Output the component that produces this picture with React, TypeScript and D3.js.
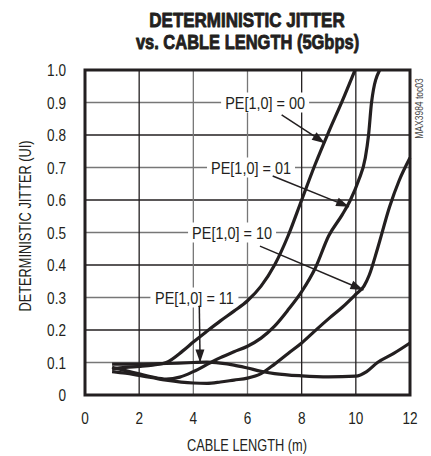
import React from "react";
import * as d3 from "d3";

const W = 431;
const H = 456;

const xTicks = [0, 2, 4, 6, 8, 10, 12];
const yTicks = [0, 0.1, 0.2, 0.3, 0.4, 0.5, 0.6, 0.7, 0.8, 0.9, 1.0];
const yTickLabels = ["0", "0.1", "0.2", "0.3", "0.4", "0.5", "0.6", "0.7", "0.8", "0.9", "1.0"];

const pe00: [number, number][] = [
  [1, 0.08], [1.5, 0.085], [2, 0.088], [2.5, 0.092], [3, 0.1], [3.6, 0.135], [4, 0.163], [4.5, 0.196],
  [5, 0.228], [5.5, 0.258], [6, 0.29], [6.5, 0.335], [7, 0.4], [7.5, 0.49], [8, 0.6],
  [8.5, 0.71], [9, 0.81], [9.5, 0.905], [9.97, 1.0],
];
const pe01: [number, number][] = [
  [1, 0.085], [1.5, 0.075], [2, 0.065], [2.5, 0.055], [3, 0.049], [3.5, 0.055], [4, 0.072], [4.6, 0.098],
  [5, 0.115], [5.5, 0.133], [6, 0.15], [6.5, 0.175], [7, 0.212], [7.5, 0.262], [8, 0.318],
  [8.5, 0.39], [9, 0.49], [9.5, 0.555], [9.8, 0.6], [10.1, 0.66], [10.35, 0.73], [10.47, 0.8],
  [10.58, 0.9], [10.88, 1.0],
];
const pe10: [number, number][] = [
  [1, 0.072], [1.5, 0.067], [2, 0.06], [2.5, 0.053], [3, 0.046], [4, 0.037], [4.5, 0.036], [5, 0.04],
  [5.5, 0.046], [6, 0.052], [6.5, 0.066], [7, 0.095], [7.5, 0.128], [8, 0.16], [8.5, 0.198],
  [9, 0.235], [9.5, 0.27], [10, 0.31], [10.3, 0.335], [10.5, 0.37], [10.8, 0.45], [11.25, 0.58],
  [11.6, 0.66], [12, 0.73],
];
const pe11: [number, number][] = [
  [1, 0.095], [2, 0.095], [3, 0.097], [4, 0.1], [4.5, 0.101], [5, 0.098], [5.5, 0.092],
  [6, 0.083], [6.5, 0.073], [7, 0.066], [8, 0.059], [9, 0.056], [10, 0.058], [10.4, 0.072],
  [10.8, 0.1], [11.4, 0.128], [12, 0.16],
];
const seriesList = [pe00, pe01, pe10, pe11];

const labelTexts = ["PE[1,0] = 00", "PE[1,0] = 01", "PE[1,0] = 10", "PE[1,0] = 11"];
const labelPos: [number, number][] = [[6.65, 0.9], [6.13, 0.7], [5.43, 0.5], [4.04, 0.3]];
const arrowFrom: [number, number][] = [[7.26, 0.862], [6.93, 0.674], [6.46, 0.458], [4.22, 0.275]];
const arrowTo: [number, number][] = [[8.86, 0.775], [9.75, 0.579], [10.28, 0.323], [4.25, 0.1]];

const darkX = [2, 8, 10];
const darkY = [0.2, 0.4, 0.6, 0.8];

const FONT = "'Liberation Sans', Arial, Helvetica, sans-serif";
const INK = "#231f20";
const SX = 0.8;

function NText(props: {
  x: number; y: number; size: number; anchor?: string; bold?: boolean; rotate?: number;
  dy?: string; fill?: string; sx?: number; stroke?: number; children: React.ReactNode;
}) {
  const { x, y, size, anchor = "start", bold, rotate = 0, dy, fill = INK, sx = SX, stroke, children } = props;
  return (
    <text
      transform={`translate(${x},${y}) rotate(${rotate}) scale(${sx},1)`}
      textAnchor={anchor}
      fontSize={size}
      fontWeight={bold ? "bold" : "normal"}
      dy={dy}
      fill={fill}
      stroke={stroke ? fill : undefined}
      strokeWidth={stroke}
      strokeLinejoin="round"
    >
      {children}
    </text>
  );
}

export default function App() {
  const x = d3.scaleLinear().domain([0, 12]).range([85, 410]);
  const y = d3.scaleLinear().domain([0, 1]).range([395, 70]);
  const line = d3
    .line<[number, number]>()
    .x((d) => x(d[0]))
    .y((d) => y(d[1]))
    .curve(d3.curveMonotoneX);

  const arrowHead = (fx: number, fy: number, tx: number, ty: number) => {
    const ang = Math.atan2(ty - fy, tx - fx);
    const L = 13;
    const Wd = 4.5;
    const bx = tx - L * Math.cos(ang);
    const by = ty - L * Math.sin(ang);
    const px = -Math.sin(ang) * Wd;
    const py = Math.cos(ang) * Wd;
    return `M${tx},${ty}L${bx + px},${by + py}L${bx - px},${by - py}Z`;
  };

  return (
    <svg
      width={W}
      height={H}
      style={{ position: "absolute", left: 0, top: 0, background: "#fff" }}
      fontFamily={FONT}
    >
      {/* Title */}
      <NText x={247} y={27} size={21} anchor="middle" bold sx={0.81} stroke={0.9}>DETERMINISTIC JITTER</NText>
      <NText x={247.5} y={49} size={21} anchor="middle" bold sx={0.785} stroke={0.9}>vs. CABLE LENGTH (5Gbps)</NText>

      {/* grid */}
      {yTicks.slice(1, -1).map((t) => (
        <line key={"gy" + t} x1={x(0)} x2={x(12)} y1={y(t)} y2={y(t)}
          stroke={darkY.some((d) => Math.abs(d - t) < 1e-6) ? INK : "#777"} strokeWidth={1.3} />
      ))}
      {xTicks.slice(1, -1).map((t) => (
        <line key={"gx" + t} x1={x(t)} x2={x(t)} y1={y(0)} y2={y(1)}
          stroke={darkX.includes(t) ? INK : "#777"} strokeWidth={1.3} />
      ))}

      {/* labels with white backgrounds */}
      {labelTexts.map((s, i) => (
        <g key={"lb" + i}>
          <rect x={x(labelPos[i][0]) - 44} y={y(labelPos[i][1]) - 10} width={88} height={20} fill="#fff" />
          <NText x={x(labelPos[i][0])} y={y(labelPos[i][1])} dy="0.36em" anchor="middle" size={17} sx={0.85}>{s}</NText>
        </g>
      ))}

      {/* arrows */}
      {arrowFrom.map((f, i) => {
        const fx = x(f[0]), fy = y(f[1]), tx = x(arrowTo[i][0]), ty = y(arrowTo[i][1]);
        return (
          <g key={"ar" + i}>
            <line x1={fx} y1={fy} x2={tx} y2={ty} stroke={INK} strokeWidth={1.5} />
            <path d={arrowHead(fx, fy, tx, ty)} fill={INK} />
          </g>
        );
      })}

      {/* curves */}
      {seriesList.map((s, i) => (
        <path key={"s" + i} d={line(s) || ""} fill="none" stroke={INK} strokeWidth={3.2}
          strokeLinejoin="round" strokeLinecap="butt" />
      ))}

      {/* frame */}
      <rect x={x(0)} y={y(1)} width={x(12) - x(0)} height={y(0) - y(1)} fill="none" stroke={INK} strokeWidth={3} />

      {/* y tick labels */}
      {yTicks.map((t, i) => (
        <NText key={"yt" + t} x={66} y={y(t)} dy="0.36em" anchor="end" size={17}>
          {yTickLabels[i]}
        </NText>
      ))}
      {/* x tick labels */}
      {xTicks.map((t) => (
        <NText key={"xt" + t} x={x(t)} y={424} anchor="middle" size={17}>
          {t}
        </NText>
      ))}

      {/* axis titles */}
      <NText x={247} y={451} anchor="middle" size={16}>CABLE LENGTH (m)</NText>
      <NText x={31} y={226} anchor="middle" size={16} rotate={-90}>DETERMINISTIC JITTER (UI)</NText>

      {/* side code */}
      <NText x={423} y={108.5} anchor="middle" size={10} rotate={-90} fill="#444" sx={0.85}>MAX3984 toc03</NText>
    </svg>
  );
}
